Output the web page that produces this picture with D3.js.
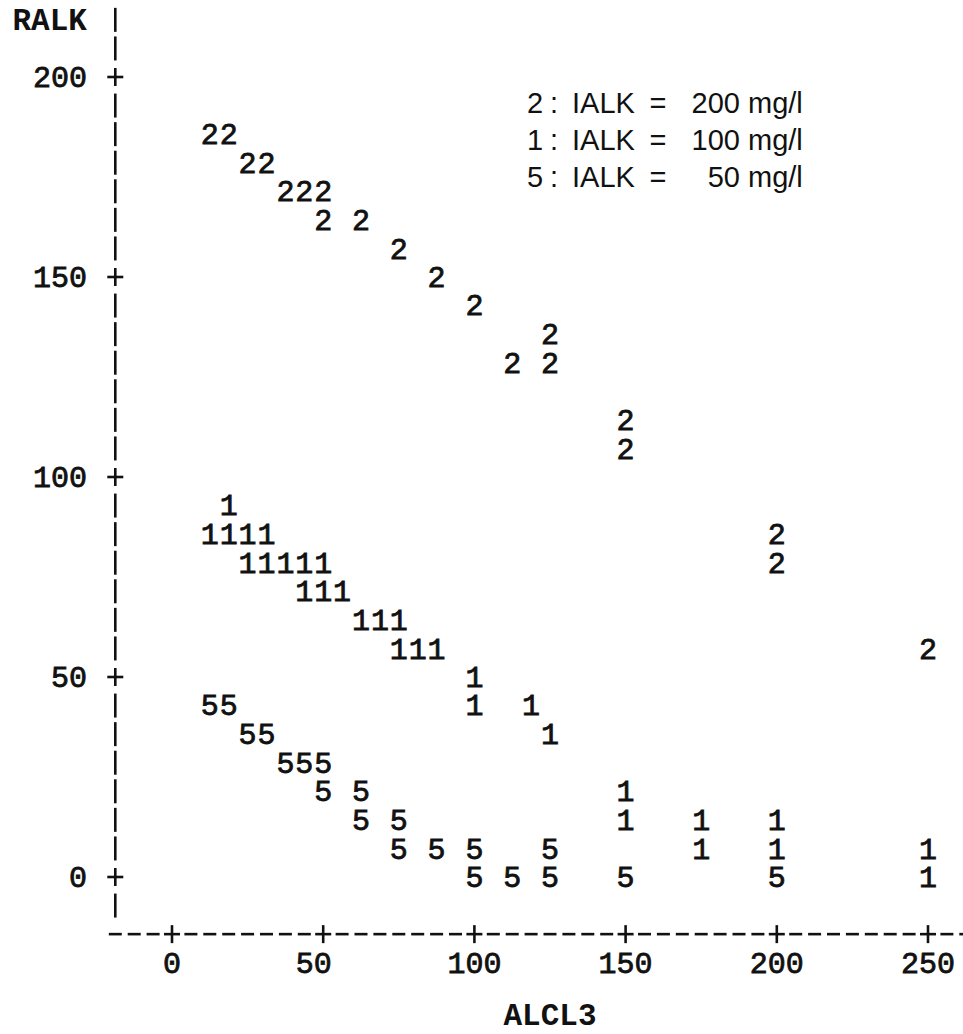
<!DOCTYPE html>
<html>
<head>
<meta charset="utf-8">
<title>RALK vs ALCL3</title>
<script src="https://d3js.org/d3.v7.min.js"></script>
<style>
  body { margin: 0; background: #fff; }
  svg text { fill: #111; }
  .mono { font-family: "Liberation Mono", "Courier New", monospace; font-size: 30px; stroke: #111; stroke-width: 0.8px; }
  .bold { font-weight: bold; font-size: 31px; stroke-width: 0; }
  .legend { font-family: "Liberation Sans", Arial, sans-serif; font-size: 29px; }
</style>
</head>
<body>
<svg id="plot" width="963" height="1034"></svg>
<script>
// printer plot: one column = 6.25 ALCL3 units, one line = 50/7 RALK units
let colStep = 6.25;
let rowStep = 50 / 7;

// IALK = 200 mg/l  (symbol "2")
let alk200X = [12.5, 18.75, 25, 31.25, 37.5, 43.75, 50, 50, 62.5, 75, 87.5, 100, 125, 112.5, 125, 150, 150, 200, 200, 250];
let alk200Y = [185.7, 185.7, 178.6, 178.6, 171.4, 171.4, 171.4, 164.3, 164.3, 157.1, 150, 142.9, 135.7, 128.6, 128.6, 114.3, 107.1, 85.7, 78.6, 57.1];

// IALK = 100 mg/l  (symbol "1")
let alk100X = [18.75, 12.5, 18.75, 25, 31.25, 25, 31.25, 37.5, 43.75, 50, 43.75, 50, 56.25, 62.5, 68.75, 75, 75, 81.25, 87.5,
               100, 100, 118.75, 125, 150, 150, 175, 200, 175, 200, 250, 250];
let alk100Y = [92.9, 85.7, 85.7, 85.7, 85.7, 78.6, 78.6, 78.6, 78.6, 78.6, 71.4, 71.4, 71.4, 64.3, 64.3, 64.3, 57.1, 57.1, 57.1,
               50, 42.9, 42.9, 35.7, 21.4, 14.3, 14.3, 14.3, 7.1, 7.1, 7.1, 0];

// IALK = 50 mg/l  (symbol "5")
let alk50X = [12.5, 18.75, 25, 31.25, 37.5, 43.75, 50, 50, 62.5, 62.5, 75, 75, 87.5, 100, 125, 100, 112.5, 125, 150, 200];
let alk50Y = [42.9, 42.9, 35.7, 35.7, 28.6, 28.6, 28.6, 21.4, 21.4, 14.3, 14.3, 7.1, 7.1, 7.1, 7.1, 0, 0, 0, 0, 0];

let xTicks = [0, 50, 100, 150, 200, 250];
let yTicks = [0, 50, 100, 150, 200];

let legendSymbols = ['2', '1', '5'];
let legendValues = ['200', '100', '50'];

let series = [
  {sym: '2', xs: alk200X, ys: alk200Y},
  {sym: '1', xs: alk100X, ys: alk100Y},
  {sym: '5', xs: alk50X, ys: alk50Y}
];

let svg = d3.select('#plot');

let x = d3.scaleLinear().domain([0, 250]).range([172, 928]);
let y = d3.scaleLinear().domain([0, 200]).range([877, 77]);

let cellW = x(colStep) - x(0);
let axisX = x(-3 * colStep);        // column of the vertical axis
let axisY = y(-2 * rowStep);        // line of the horizontal axis

let ink = '#111';

// vertical axis: "|" on each line, "+" at ticks
let rows = d3.range(-1, 31);
let vax = svg.append('g').attr('stroke', ink).attr('stroke-width', 2.6);
rows.forEach(function(r) {
  let cy = y(r * rowStep);
  let isTick = r >= 0 && r % 7 == 0 && r <= 28;
  if (isTick) {
    vax.append('line').attr('x1', axisX - 8).attr('x2', axisX + 8).attr('y1', cy).attr('y2', cy);
    vax.append('line').attr('x1', axisX).attr('x2', axisX).attr('y1', cy - 9).attr('y2', cy + 9);
  } else {
    vax.append('line').attr('x1', axisX).attr('x2', axisX).attr('y1', cy - 12).attr('y2', cy + 12);
  }
});

// horizontal axis: "-" in each column, "+" at ticks
let cols = d3.range(-3, 43);
let hax = svg.append('g').attr('stroke', ink).attr('stroke-width', 2.6);
cols.forEach(function(k) {
  let cx = x(k * colStep);
  if (k >= 0 && k % 8 == 0) {
    hax.append('line').attr('x1', cx - 8).attr('x2', cx + 8).attr('y1', axisY).attr('y2', axisY);
    hax.append('line').attr('x1', cx).attr('x2', cx).attr('y1', axisY - 9).attr('y2', axisY + 9);
  } else {
    hax.append('line').attr('x1', cx - 6.5).attr('x2', cx + 6.5).attr('y1', axisY).attr('y2', axisY);
  }
});

// y tick labels
svg.append('g').selectAll('text')
  .data(yTicks)
  .join('text')
  .attr('class', 'mono')
  .attr('x', axisX - 1.5 * cellW)
  .attr('y', d => y(d))
  .attr('dy', '0.33em')
  .attr('text-anchor', 'end')
  .text(d => d);

// x tick labels (printer style: start column = tick - floor(len/2))
svg.append('g').selectAll('text')
  .data(xTicks)
  .join('text')
  .attr('class', 'mono')
  .attr('x', function(d) {
    let len = String(d).length;
    return x(d - Math.floor(len / 2) * colStep) + (len - 1) / 2 * cellW;
  })
  .attr('y', y(-3 * rowStep))
  .attr('dy', '0.33em')
  .attr('text-anchor', 'middle')
  .text(d => d);

// axis titles
svg.append('text')
  .attr('class', 'mono bold')
  .attr('x', axisX - 1.5 * cellW)
  .attr('y', y(30 * rowStep))
  .attr('dy', '0.33em')
  .attr('text-anchor', 'end')
  .text('RALK');

svg.append('text')
  .attr('class', 'mono bold')
  .attr('x', x(125))
  .attr('y', 1015)
  .attr('dy', '0.33em')
  .attr('text-anchor', 'middle')
  .text('ALCL3');

// plotted symbols
series.forEach(function(s) {
  let pts = s.xs.map((v, i) => ({x: v, y: s.ys[i]}));
  svg.append('g').selectAll('text')
    .data(pts)
    .join('text')
    .attr('class', 'mono')
    .attr('x', d => x(d.x))
    .attr('y', d => y(d.y))
    .attr('dy', '0.33em')
    .attr('text-anchor', 'middle')
    .text(s.sym);
});

// legend
let legend = svg.append('g').attr('class', 'legend');
legendSymbols.forEach(function(sym, i) {
  let ly = 103 + i * 37;
  legend.append('text').attr('x', 527).attr('y', ly).attr('dy', '0.36em').text(sym);
  legend.append('text').attr('x', 554).attr('y', ly).attr('dy', '0.36em').attr('text-anchor', 'middle').text(':');
  legend.append('text').attr('x', 572).attr('y', ly).attr('dy', '0.36em').text('IALK');
  legend.append('text').attr('x', 658).attr('y', ly).attr('dy', '0.36em').attr('text-anchor', 'middle').text('=');
  legend.append('text').attr('x', 740).attr('y', ly).attr('dy', '0.36em').attr('text-anchor', 'end').text(legendValues[i]);
  legend.append('text').attr('x', 748).attr('y', ly).attr('dy', '0.36em').text('mg/l');
});
</script>
</body>
</html>
